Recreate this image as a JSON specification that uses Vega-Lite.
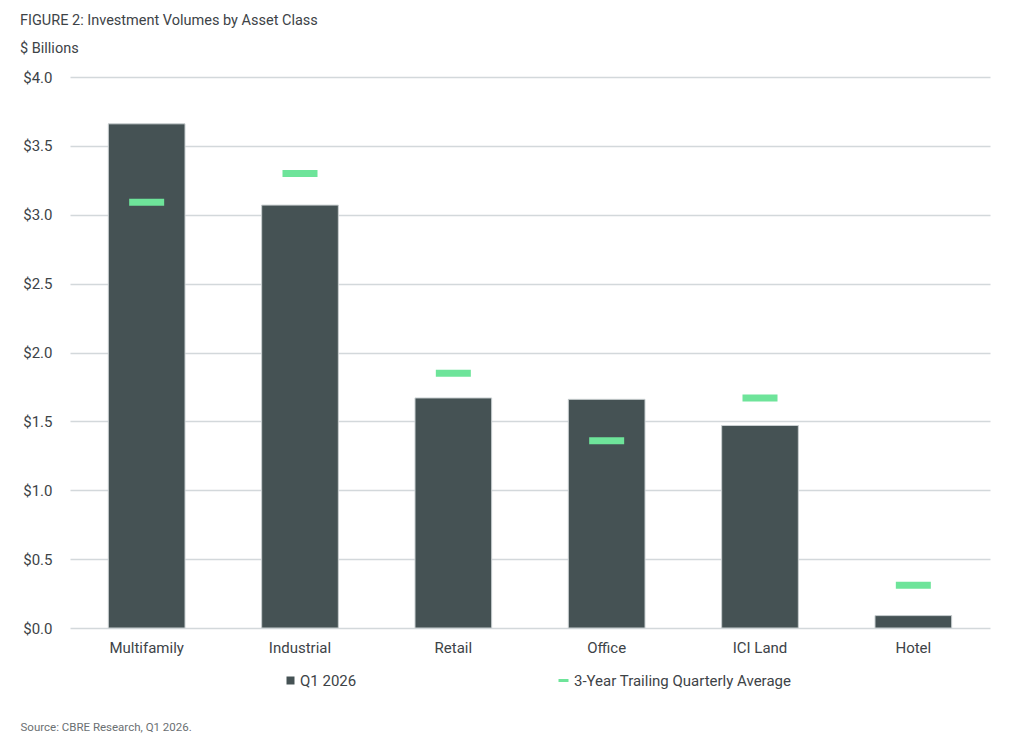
{
  "$schema": "https://vega.github.io/schema/vega-lite/v6.json",
  "width": 920,
  "height": 551,
  "autosize": {"type": "none"},
  "padding": {"left": 70, "top": 77, "right": 34, "bottom": 125},
  "background": "#ffffff",
  "title": {
    "text": "FIGURE 2: Investment Volumes by Asset Class",
    "subtitle": "$ Billions",
    "anchor": "start",
    "frame": "group",
    "dx": -50,
    "offset": 14,
    "font": "Roboto",
    "fontSize": 14.5,
    "fontWeight": "normal",
    "color": "#3d4347",
    "subtitleFont": "Roboto",
    "subtitleFontSize": 14.5,
    "subtitleColor": "#3d4347",
    "subtitlePadding": 13
  },
  "data": {
    "values": [
      {"asset": "Multifamily", "q1": 3.66, "avg": 3.09},
      {"asset": "Industrial", "q1": 3.07, "avg": 3.30},
      {"asset": "Retail", "q1": 1.67, "avg": 1.85},
      {"asset": "Office", "q1": 1.66, "avg": 1.36},
      {"asset": "ICI Land", "q1": 1.47, "avg": 1.67},
      {"asset": "Hotel", "q1": 0.09, "avg": 0.31}
    ]
  },
  "encoding": {
    "x": {
      "field": "asset",
      "type": "nominal",
      "sort": null,
      "scale": {"paddingInner": 0.5, "paddingOuter": 0.25},
      "axis": {
        "title": "Source: CBRE Research, Q1 2026.",
        "titleFont": "Roboto",
        "titleFontSize": 11.5,
        "titleFontWeight": "normal",
        "titleColor": "#6b7073",
        "titleX": -50,
        "titleY": 99,
        "titleAlign": "left",
        "titleAnchor": "start",
        "titleBaseline": "middle",
        "labelAngle": 0,
        "labelFont": "Roboto",
        "labelFontSize": 15,
        "labelColor": "#3d4347",
        "labelPadding": 12,
        "ticks": false,
        "domain": false,
        "grid": false
      }
    }
  },
  "layer": [
    {
      "mark": {"type": "bar", "stroke": "#c9cfd1", "strokeWidth": 1},
      "encoding": {
        "y": {
          "field": "q1",
          "type": "quantitative",
          "scale": {"domain": [0, 4]},
          "axis": {
            "title": null,
            "values": [0, 0.5, 1, 1.5, 2, 2.5, 3, 3.5, 4],
            "labelExpr": "'$' + format(datum.value, '.1f')",
            "labelFont": "Roboto",
            "labelFontSize": 15,
            "labelColor": "#3d4347",
            "labelPadding": 18,
            "ticks": false,
            "domain": false,
            "gridColor": "#d3d8db",
            "gridWidth": 1.5
          }
        },
        "color": {
          "datum": "Q1 2026",
          "type": "nominal",
          "scale": {"range": ["#455254"]},
          "legend": {
            "title": null,
            "orient": "none",
            "legendX": 213,
            "legendY": 596,
            "symbolType": "square",
            "symbolSize": 64,
            "symbolStrokeWidth": 0,
            "labelFont": "Roboto",
            "labelFontSize": 15,
            "labelColor": "#3d4347",
            "labelOffset": 2,
            "labelLimit": 400
          }
        }
      }
    },
    {
      "mark": {"type": "tick", "size": 35, "thickness": 7, "opacity": 1},
      "encoding": {
        "y": {"field": "avg", "type": "quantitative"},
        "color": {
          "datum": "3-Year Trailing Quarterly Average",
          "type": "nominal",
          "scale": {"range": ["#6ee49a"]},
          "legend": {
            "title": null,
            "orient": "none",
            "legendX": 486,
            "legendY": 596,
            "symbolType": "M-1,-0.3H1V0.3H-1Z",
            "symbolSize": 100,
            "symbolStrokeWidth": 0,
            "symbolOpacity": 1,
            "labelFont": "Roboto",
            "labelFontSize": 15,
            "labelColor": "#3d4347",
            "labelOffset": 3,
            "labelLimit": 400
          }
        }
      }
    }
  ],
  "resolve": {"scale": {"color": "independent"}},
  "config": {
    "view": {"stroke": null}
  }
}
